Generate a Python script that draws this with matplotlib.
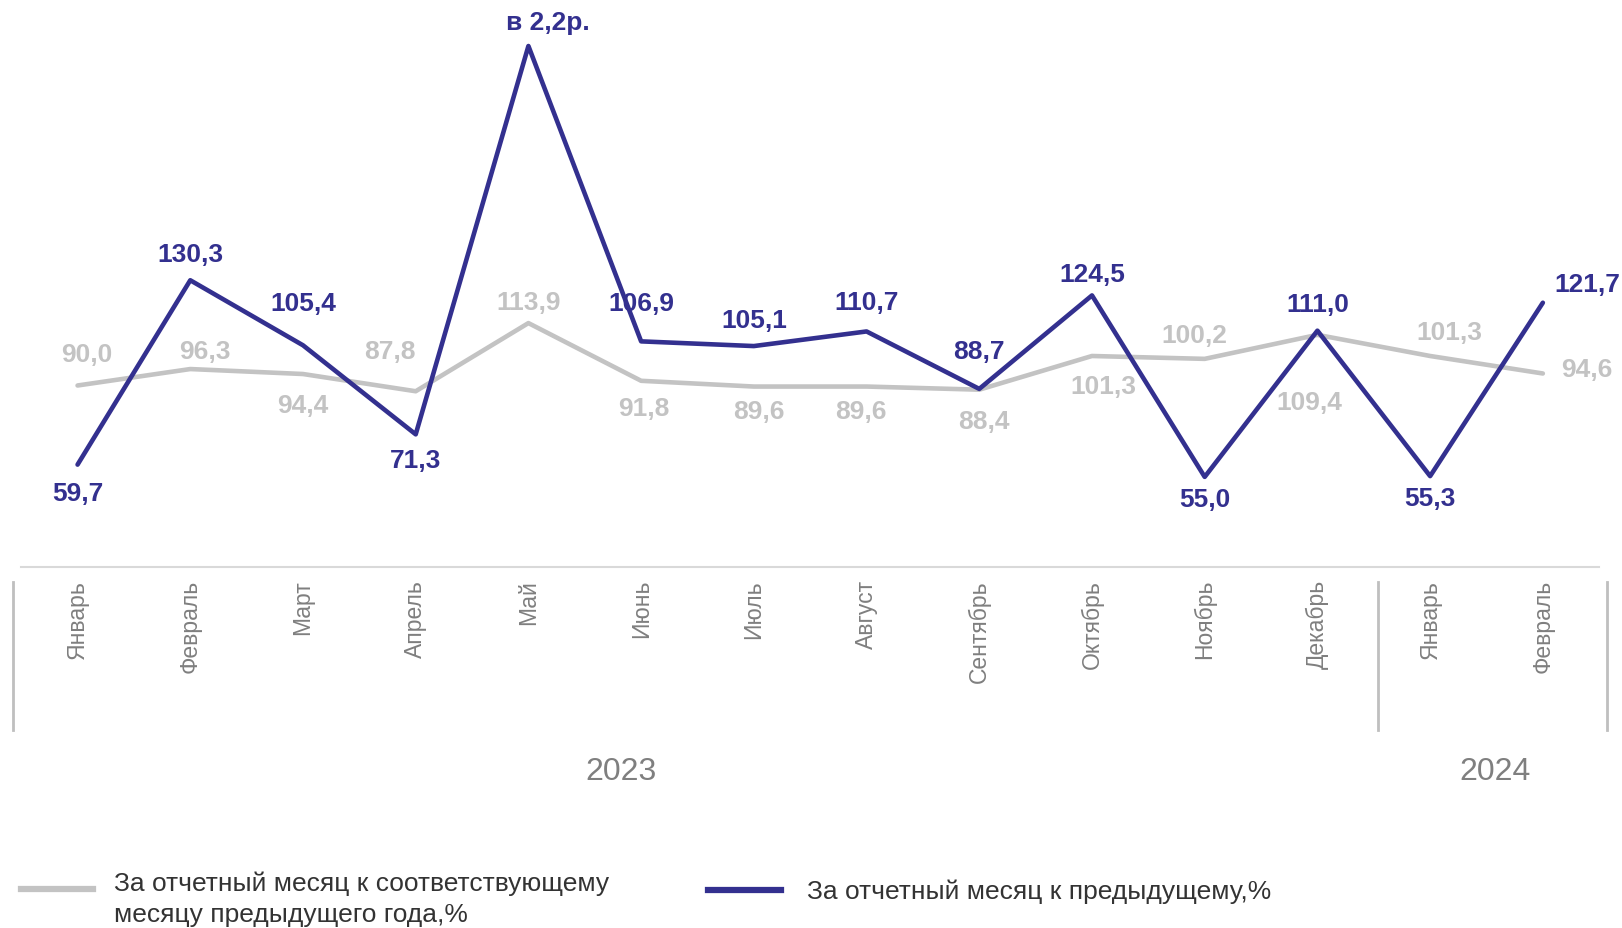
import matplotlib
matplotlib.use('Agg')
import matplotlib.pyplot as plt
from matplotlib.lines import Line2D

plt.rcParams['font.family'] = ['Liberation Sans', 'DejaVu Sans']

# %% data
months = ['Январь', 'Февраль', 'Март', 'Апрель', 'Май', 'Июнь', 'Июль', 'Август',
          'Сентябрь', 'Октябрь', 'Ноябрь', 'Декабрь', 'Январь', 'Февраль']
years = ['2023', '2024']
yoy = [90.0, 96.3, 94.4, 87.8, 113.9, 91.8, 89.6, 89.6, 88.4, 101.3, 100.2, 109.4, 101.3, 94.6]
mom = [59.7, 130.3, 105.4, 71.3, 220.0, 106.9, 105.1, 110.7, 88.7, 124.5, 55.0, 111.0, 55.3, 121.7]
mom_labels = ['59,7', '130,3', '105,4', '71,3', 'в 2,2р.', '106,9', '105,1', '110,7',
              '88,7', '124,5', '55,0', '111,0', '55,3', '121,7']
yoy_labels = ['90,0', '96,3', '94,4', '87,8', '113,9', '91,8', '89,6', '89,6',
              '88,4', '101,3', '100,2', '109,4', '101,3', '94,6']
leg_yoy = 'За отчетный месяц к соответствующему\nмесяцу предыдущего года,%'
leg_mom = 'За отчетный месяц к предыдущему,%'

# label offsets in pixels (dx, dy), dy positive = up
mom_off = [(0, -28), (0, 26), (0, 42), (0, -26), (19, 24), (0, 38), (0, 26), (0, 29),
           (0, 38), (0, 21), (0, -22), (0, 27), (0, -22), (44, 19)]
yoy_off = [(9, 32), (15, 18), (0, -31), (-26, 40), (0, 21), (3, -27), (5, -24), (-6, -24),
           (5, -31), (11, -30), (-10, 24), (-8, -67), (19, 24), (44, 4)]

BLUE = '#33308f'
GREY = '#c3c3c3'
TXT = '#7f7f7f'

# %%
W, H = 1622, 929
fig = plt.figure(figsize=(W / 100, H / 100), dpi=100)
ax = fig.add_axes([21.2 / W, 1 - 568 / H, 1578 / W, 568 / H])

x = list(range(len(months)))
ax.plot(x, yoy, color=GREY, lw=3.3, solid_joinstyle='round', solid_capstyle='round')
ax.plot(x, mom, color=BLUE, lw=3.3, solid_joinstyle='round', solid_capstyle='round')

for i in x:
    ax.annotate(yoy_labels[i], (i, yoy[i]), xytext=yoy_off[i], textcoords='offset pixels',
                ha='center', va='center', fontsize=19, fontweight='bold', color=GREY)
    ax.annotate(mom_labels[i], (i, mom[i]), xytext=mom_off[i], textcoords='offset pixels',
                ha='center', va='center', fontsize=19, fontweight='bold', color=BLUE)

ax.set_xlim(-0.5, 13.5)
ax.set_ylim(20.5, 238)
for s in ['top', 'right', 'left']:
    ax.spines[s].set_visible(False)
ax.spines['bottom'].set_color('#d9d9d9')
ax.spines['bottom'].set_linewidth(1.5)
ax.set_yticks([])
ax.set_xticks([])

tr = ax.get_xaxis_transform()
for i, m in enumerate(months):
    ax.text(i, -0.021, m, transform=tr, rotation=90, ha='center', va='top',
            fontsize=16.5, color=TXT)
for sx in [-0.57, 11.54, 13.57]:
    ax.plot([sx, sx], [-0.027, -0.287], transform=tr, color='#bfbfbf', lw=2, clip_on=False)
ax.text(4.82, -0.359, years[0], transform=tr, ha='center', va='center', fontsize=23, color=TXT)
ax.text(12.58, -0.359, years[1], transform=tr, ha='center', va='center', fontsize=23, color=TXT)

# legend drawn by hand
fig.add_artist(Line2D([21 / W, 93 / W], [1 - 890 / H] * 2, color=GREY, lw=4.5))
fig.text(114 / W, 1 - 899 / H, leg_yoy, fontsize=19, color='#333333', va='center',
         linespacing=1.38)
fig.add_artist(Line2D([708 / W, 781 / W], [1 - 891 / H] * 2, color=BLUE, lw=4.5))
fig.text(807 / W, 1 - 892 / H, leg_mom, fontsize=19, color='#333333', va='center')

fig.savefig('out.png', dpi=100)
